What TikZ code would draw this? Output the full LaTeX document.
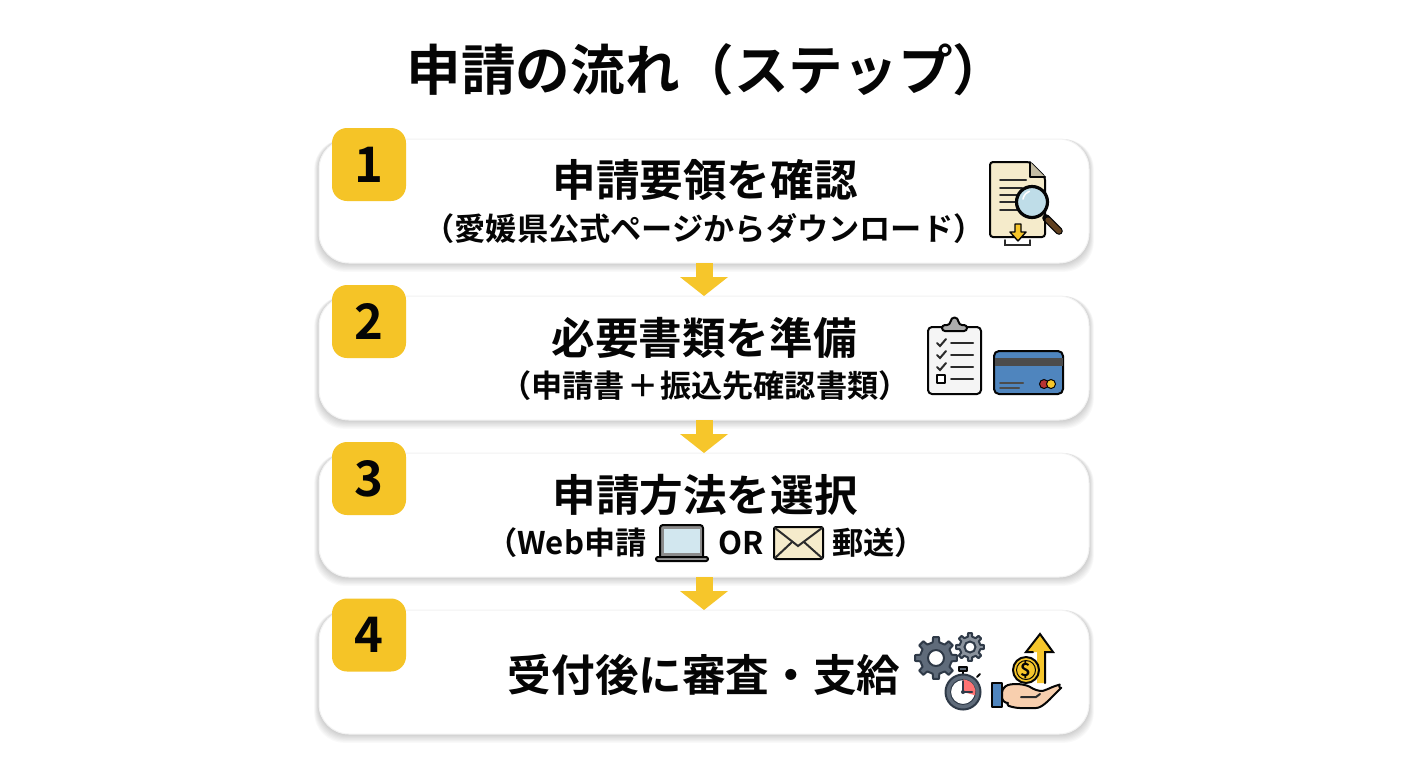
\documentclass[tikz,border=0pt]{standalone}
\usepackage{fontspec}
\setmainfont{Noto Sans CJK JP Bold}
\usetikzlibrary{arrows.meta}
\definecolor{ybadge}{HTML}{F5C427}
\definecolor{yarrow}{HTML}{F6C62B}
\definecolor{ink}{HTML}{050505}
\definecolor{paper}{HTML}{F5EBCB}
\definecolor{lens}{HTML}{BFDDE8}
\definecolor{cardblue}{HTML}{4F85BE}
\definecolor{gearc}{HTML}{5F6B7A}
\definecolor{geard}{HTML}{2F3A48}
\definecolor{gearl}{HTML}{8A929C}
\definecolor{peach}{HTML}{F8CFAE}
\tikzset{
  x=0.5pt,y=-0.5pt,
  cardbox/.style={draw=black!5,line width=.5pt,fill=white,rounded corners=15pt,minimum width=385pt,minimum height=62pt,inner sep=0pt,outer sep=0pt},
  badge/.style={fill=ybadge,rounded corners=7.5pt,minimum width=37pt,minimum height=36.5pt,inner sep=0pt,font=\fontsize{24.5}{24.5}\selectfont,text=ink},
  titletext/.style={font=\fontsize{27.3}{31}\selectfont,text=ink,inner sep=0pt},
  headtext/.style={font=\fontsize{21.8}{26}\selectfont,text=ink,inner sep=0pt},
  subtext/.style={font=\fontsize{15.6}{20}\selectfont,text=ink,inner sep=0pt},
  flowarrow/.style={draw=yarrow,line width=8.5pt,-{Triangle[width=23.5pt,length=9.5pt]},shorten >=0pt},
  icon/.style={draw=ink,line width=1pt,line join=round,line cap=round},
  iconline/.style={draw=ink!85,line width=1pt,line cap=round},
}
\newcommand{\softshadow}[4]{% x1 y1 x2 y2
  \foreach \s in {8,7,...,1}{
    \fill[black,opacity=.022,rounded corners=15pt]
      (#1-\s*.6,#2) rectangle (#3+\s*.6,#4+\s*1.1);
  }
}
\newcommand{\gearshape}[6]{% cx cy outer inner hole fill
  \path[fill=#6,draw=geard,line width=1pt,line join=round]
    ({#1+#4*cos(-12)},{#2+#4*sin(-12)})
    \foreach \a in {0,45,...,315}{
      -- ({#1+#4*cos(\a-12)},{#2+#4*sin(\a-12)})
      -- ({#1+#3*cos(\a-8)},{#2+#3*sin(\a-8)})
      -- ({#1+#3*cos(\a+8)},{#2+#3*sin(\a+8)})
      -- ({#1+#4*cos(\a+12)},{#2+#4*sin(\a+12)})
    } -- cycle;
  \fill[white,draw=geard,line width=1pt] (#1,#2) circle (#5);
}
\begin{document}
\begin{tikzpicture}
\useasboundingbox (0,0) rectangle (1408,768);
\fill[white] (0,0) rectangle (1408,768);
\node[titletext] (title) at (707,70) {申請の流れ（ステップ）};

\softshadow{319}{139}{1089}{263}
\softshadow{319}{296}{1089}{420}
\softshadow{319}{453}{1089}{577}
\softshadow{319}{610}{1089}{734}
\node[cardbox] (c1) at (704,201) {};
\node[cardbox] (c2) at (704,358) {};
\node[cardbox] (c3) at (704,515) {};
\node[cardbox] (c4) at (704,672) {};

\draw[flowarrow] (c1.south) -- (c2.north);
\draw[flowarrow] (c2.south) -- (c3.north);
\draw[flowarrow] (c3.south) -- (c4.north);

\node[badge] (b1) at (369,164.5) {1};
\node[badge] (b2) at (369,321.5) {2};
\node[badge] (b3) at (369,478.5) {3};
\node[badge] (b4) at (369,635) {4};

\node[headtext] (h1) at (705,180) {申請要領を確認};
\node[subtext] (s1) at (704,229) {（愛媛県公式ページからダウンロード）};
\node[headtext] (h2) at (704,338) {必要書類を準備};
\node[subtext] (s2) at (705,386) {（申請書\kern1pt＋\kern1pt振込先確認書類）};
\node[headtext] (h3) at (705,495) {申請方法を選択};
\node[subtext,anchor=east] (s3a) at (647,543) {（Web申請};
\node[subtext] (s3b) at (741,543) {OR};
\node[subtext,anchor=west] (s3c) at (832,543) {郵送）};
\node[headtext] (h4) at (704,675) {受付後に審査・支給};

% --- icon: document + magnifier
\draw[icon,fill=paper,rounded corners=1.5pt] (990,162) -- (1030,162) -- (1045,177) -- (1045,237) -- (990,237) -- cycle;
\draw[icon,fill=paper!80!black] (1030,162) -- (1030,177) -- (1045,177);
\foreach \y/\e in {180/1026,188/1022,195/1018,202/1016,210/1018}{
  \draw[iconline] (1000,\y) -- (\e,\y);
}
\draw[icon,fill=yarrow,line width=.7pt] (1015,224) -- (1021,224) -- (1021,232) -- (1026,232) -- (1018,241) -- (1010,232) -- (1015,232) -- cycle;
\draw[iconline] (1005,240) -- (1005,245) -- (1030,245) -- (1030,240);
\draw[draw=ink,line width=3.8pt,line cap=round] (1046,218) -- (1059,231);
\draw[draw=black!50!brown,line width=2.6pt,line cap=round] (1048,220) -- (1059,231);
\draw[icon,fill=lens,line width=1.6pt] (1032,202) circle (15.5);
\draw[white,line width=.8pt,line cap=round] (1023,199) arc (190:250:10);

% --- icon: clipboard
\draw[icon,fill=black!4,rounded corners=2pt] (928,327) rectangle (981,394);
\draw[icon,fill=black!32,rounded corners=1.5pt] (942,331) -- (942,325) -- (950,325) .. controls (951,316) and (958,316) .. (959,325) -- (967,325) -- (967,331) -- cycle;
\foreach \y in {343,355,367}{
  \draw[iconline] (937,\y) -- (940,\y+3) -- (946,\y-4);
  \draw[iconline] (951,\y) -- (973,\y);
}
\draw[icon,fill=white] (937,375) rectangle (945,383);
\draw[iconline] (951,379) -- (973,379);

% --- icon: bank card
\draw[icon,fill=cardblue,rounded corners=2.5pt] (994,351) rectangle (1063,394);
\fill[black!70] (994.5,358) rectangle (1062.5,366);
\draw[iconline,draw=black!70] (1000,383) -- (1023,383);
\draw[iconline,draw=black!70] (1000,387.5) -- (1019,387.5);
\draw[draw=ink,fill=red!65!black!80,line width=.5pt] (1044,384) circle (4.5);
\draw[draw=ink,fill=yarrow,line width=.5pt] (1051,384) circle (4.5);

% --- icon: laptop
\draw[icon,fill=black!45,rounded corners=1.5pt] (660,557) -- (660,525) -- (703,525) -- (703,557);
\fill[lens!70!white] (663.5,528.5) rectangle (700,553);
\draw[icon,fill=black!40,rounded corners=1pt] (656,557) -- (708,557) -- (708,561) -- (656,561) -- cycle;

% --- icon: envelope
\draw[icon,fill=paper,rounded corners=1pt] (774,527) rectangle (823,559);
\draw[iconline] (775,528) -- (798,546) -- (822,528);
\draw[iconline] (775,558) -- (792,542);
\draw[iconline] (822,558) -- (804,542);

% --- icon: gears, stopwatch
\gearshape{936}{658}{21}{16}{8}{gearc}
\gearshape{970}{647}{14}{10.5}{5.5}{gearl}
\draw[icon,fill=gearc] (959,667) rectangle (967,671);
\draw[icon,fill=gearc] (963,671) -- (963,675);
\draw[icon,fill=gearc] (977,677) -- (980,674);
\draw[draw=geard,fill=gearc,line width=1pt] (963,692) circle (17.5);
\draw[fill=white,draw=geard,line width=.5pt] (963,692) circle (12.5);
\fill[red!55!white] (963,692) -- (963,679.5) arc (-90:15:12.5) -- cycle;
\draw[geard,line width=1pt,line cap=round] (963,681) -- (963,692) -- (972,692);
\fill[geard] (963,692) circle (2);

% --- icon: hand, coin, arrow
\draw[draw=none,fill=yarrow] (1040,634) -- (1053,652) -- (1045,652) -- (1045,683) -- (1037,683) -- (1037,652) -- (1026,652) -- cycle;
\draw[iconline,draw=ink] (1045,683) -- (1045,652) -- (1053,652) -- (1040,634) -- (1026,652) -- (1033,652);
\draw[icon,fill=yarrow] (1026,670) circle (13);
\draw[draw=ink,line width=.5pt] (1026,670) circle (9.5);
\node[font=\fontsize{9}{9}\selectfont,text=ink,inner sep=0pt] (dollar) at (1026,670) {\$};
\draw[icon,fill=peach,rounded corners=3pt] (1002,687) .. controls (1014,683) and (1026,684) .. (1036,691) .. controls (1043,691) and (1048,689) .. (1054,686) .. controls (1058,685) and (1060,689) .. (1057,692) .. controls (1050,699) and (1042,708) .. (1030,708) -- (1014,708) .. controls (1009,706) and (1006,703) .. (1002,703) -- cycle;
\draw[iconline] (1021,697) -- (1036,697) -- (1040,694);
\draw[icon,fill=cardblue] (992,683) rectangle (1002,707);
\end{tikzpicture}
\end{document}
